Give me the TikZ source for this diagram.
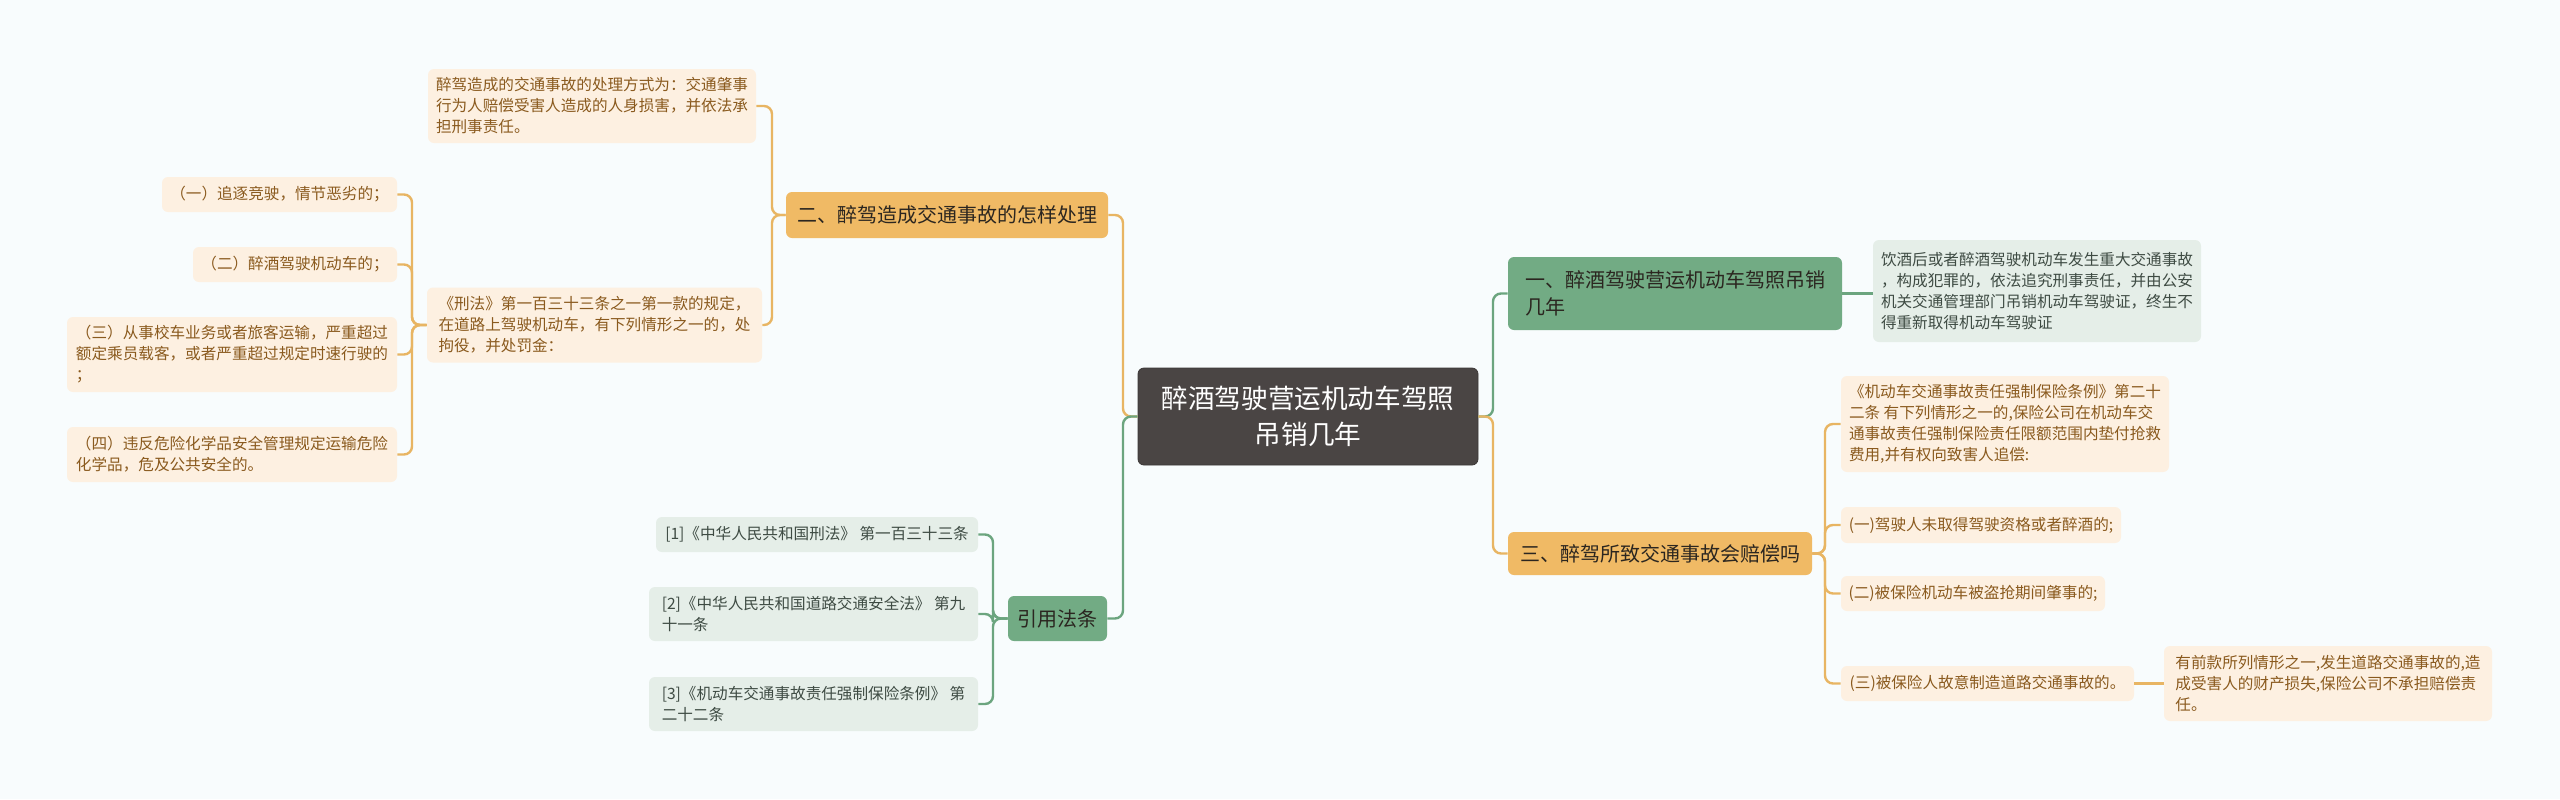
\documentclass[tikz,border=0pt]{standalone}
\usepackage{fontspec}
\setmainfont{Noto Sans CJK SC}
\definecolor{bgc}{HTML}{F8FCFD}
\definecolor{rootc}{HTML}{4A4544}
\definecolor{orgb}{HTML}{F0BA65}
\definecolor{orgl}{HTML}{FDF0E1}
\definecolor{orgline}{HTML}{E8B563}
\definecolor{orgtxt}{HTML}{8A5A1E}
\definecolor{grnb}{HTML}{72AB84}
\definecolor{grnl}{HTML}{E5EEE8}
\definecolor{grnline}{HTML}{6CA57F}
\definecolor{grntxt}{HTML}{3E4B43}
\definecolor{darktxt}{HTML}{2B2620}
\tikzset{
  sz/.style 2 args={minimum width=#1*0.5pt, minimum height=#2*0.5pt},
  rootbox/.style={fill=rootc, draw=rootc!80!black, line width=0.4pt, rounded corners=3pt, text=white, align=center, inner sep=2pt, font=\fontsize{13.3pt}{18pt}\selectfont},
  orgbranch/.style={fill=orgb, rounded corners=3pt, text=darktxt, align=left, inner sep=2pt, font=\fontsize{10pt}{13.5pt}\selectfont},
  grnbranch/.style={fill=grnb, rounded corners=3pt, text=darktxt, align=left, inner sep=2pt, font=\fontsize{10pt}{13.5pt}\selectfont},
  orgleaf/.style={fill=orgl, rounded corners=3pt, text=orgtxt, align=left, inner sep=2pt, font=\fontsize{7.8pt}{10.5pt}\selectfont},
  grnleaf/.style={fill=grnl, rounded corners=3pt, text=grntxt, align=left, inner sep=2pt, font=\fontsize{7.8pt}{10.5pt}\selectfont},
  lo/.style={draw=orgline, line width=1.2pt, rounded corners=4pt},
  lg/.style={draw=grnline, line width=1.2pt, rounded corners=4pt},
}
\begin{document}
\begin{tikzpicture}[x=0.5pt, y=-0.5pt]
\fill[bgc] (0,0) rectangle (2560,799);
\useasboundingbox (0,0) rectangle (2560,799);

% root
\node[rootbox, sz={340}{97}] (root) at (1308,416.5) {醉酒驾驶营运机动车驾照\\吊销几年};

% left orange branch
\node[orgbranch, sz={322}{46}] (b2) at (947,215) {二、醉驾造成交通事故的怎样处理};
\node[orgleaf, sz={328}{74}] (a1) at (592,106) {醉驾造成的交通事故的处理方式为：交通肇事\\行为人赔偿受害人造成的人身损害，并依法承\\担刑事责任。};
\node[orgleaf, sz={335}{75}] (a2) at (594.5,325) {《刑法》第一百三十三条之一第一款的规定，\\在道路上驾驶机动车，有下列情形之一的，处\\拘役，并处罚金：};
\node[orgleaf, sz={235}{35}] (i1) at (279.5,194.5) {（一）追逐竞驶，情节恶劣的；};
\node[orgleaf, sz={204}{35}] (i2) at (295,264.5) {（二）醉酒驾驶机动车的；};
\node[orgleaf, sz={330}{75}] (i3) at (232,354.5) {（三）从事校车业务或者旅客运输，严重超过\\额定乘员载客，或者严重超过规定时速行驶的\\；};
\node[orgleaf, sz={330}{55}] (i4) at (232,454.5) {（四）违反危险化学品安全管理规定运输危险\\化学品，危及公共安全的。};

% left green branch
\node[grnbranch, sz={99}{45}] (cite) at (1057.5,618.5) {引用法条};
\node[grnleaf, sz={322}{35}] (r1) at (817,534.5) {[1]《中华人民共和国刑法》 第一百三十三条};
\node[grnleaf, sz={329}{54}] (r2) at (813.5,614) {[2]《中华人民共和国道路交通安全法》 第九\\十一条};
\node[grnleaf, sz={329}{54}] (r3) at (813.5,704) {[3]《机动车交通事故责任强制保险条例》 第\\二十二条};

% right green branch
\node[grnbranch, sz={334}{73}] (b1) at (1675,293.5) {一、醉酒驾驶营运机动车驾照吊销\\几年};
\node[grnleaf, sz={328}{102}] (g1) at (2037,291) {饮酒后或者醉酒驾驶机动车发生重大交通事故\\，构成犯罪的，依法追究刑事责任，并由公安\\机关交通管理部门吊销机动车驾驶证，终生不\\得重新取得机动车驾驶证};

% right orange branch
\node[orgbranch, sz={304}{43}] (b3) at (1660,553.5) {三、醉驾所致交通事故会赔偿吗};
\node[orgleaf, sz={328}{96}] (c1) at (2005,424) {《机动车交通事故责任强制保险条例》第二十\\二条 有下列情形之一的,保险公司在机动车交\\通事故责任强制保险责任限额范围内垫付抢救\\费用,并有权向致害人追偿:};
\node[orgleaf, sz={280}{36}] (c2) at (1981,525) {(一)驾驶人未取得驾驶资格或者醉酒的;};
\node[orgleaf, sz={264}{35}] (c3) at (1973,593.5) {(二)被保险机动车被盗抢期间肇事的;};
\node[orgleaf, sz={293}{35}] (c4) at (1987.5,683.5) {(三)被保险人故意制造道路交通事故的。};
\node[orgleaf, sz={328}{75}] (c5) at (2328,683.5) {有前款所列情形之一,发生道路交通事故的,造\\成受害人的财产损失,保险公司不承担赔偿责\\任。};

% connectors: root to branches
\coordinate (tl) at (1123,416.5);
\coordinate (tr) at (1493,416.5);
\draw[lo] (root.west) -- (tl) |- (b2.east);
\draw[lg] (root.west) -- (tl) |- (cite.east);
\draw[lg] (root.east) -- (tr) |- (b1.west);
\draw[lo] (root.east) -- (tr) |- (b3.west);

% b2 children
\coordinate (t2) at (772,215);
\draw[lo] (b2.west) -- (t2) |- (a1.east);
\draw[lo] (b2.west) -- (t2) |- (a2.east);

% a2 children
\coordinate (ta) at (412,325);
\draw[lo] (a2.west) -- (ta) |- (i1.east);
\draw[lo] (a2.west) -- (ta) |- (i2.east);
\draw[lo] (a2.west) -- (ta) |- (i3.east);
\draw[lo] (a2.west) -- (ta) |- (i4.east);

% cite children
\coordinate (tc) at (993,618.5);
\draw[lg] (cite.west) -- (tc) |- (r1.east);
\draw[lg] (cite.west) -- (tc) |- (r2.east);
\draw[lg] (cite.west) -- (tc) |- (r3.east);

% b1 child
\draw[lg] (b1.east) -- (b1.east -| g1.west);

% b3 children
\coordinate (t3) at (1825,553.5);
\draw[lo] (b3.east) -- (t3) |- (c1.west);
\draw[lo] (b3.east) -- (t3) |- (c2.west);
\draw[lo] (b3.east) -- (t3) |- (c3.west);
\draw[lo] (b3.east) -- (t3) |- (c4.west);

% c4 to c5
\draw[lo] (c4.east) -- (c4.east -| c5.west);
\end{tikzpicture}
\end{document}
